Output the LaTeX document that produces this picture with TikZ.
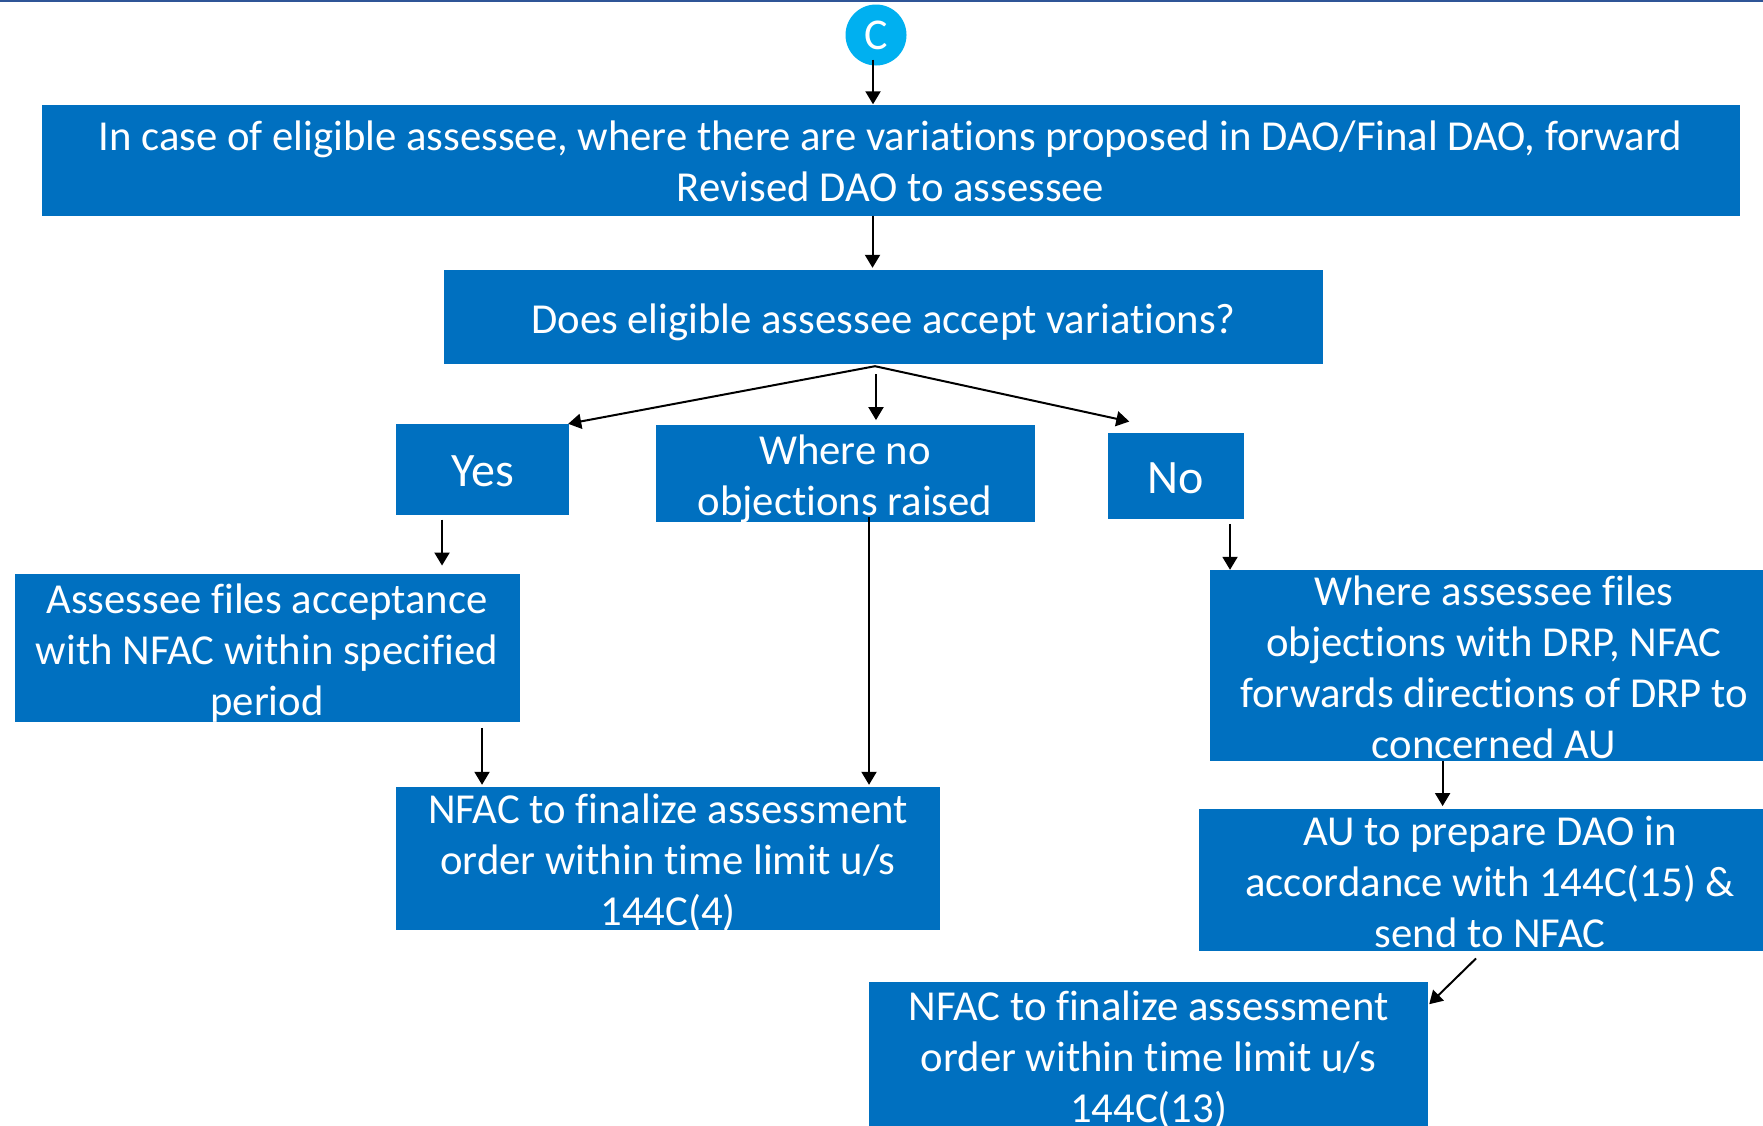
\documentclass[tikz,border=0pt]{standalone}
\usepackage{fontspec}
\setmainfont{Carlito}[Ligatures=NoCommon]
\usetikzlibrary{arrows.meta}
\definecolor{boxblue}{HTML}{0070C0}
\definecolor{dotblue}{HTML}{00B0F0}
\definecolor{rulenavy}{HTML}{2F5597}
% box text: centred lines, set a little below the box's middle; the
% reported height and depth are trimmed so the box keeps its given size
\newcommand{\boxlines}[1]{\raisebox{-6pt}[\dimexpr\height-10pt\relax][\dimexpr\depth-10pt\relax]{\begin{tabular}{@{}c@{}}#1\end{tabular}}}
\tikzset{
  stepbox/.style={rectangle, fill=boxblue, text=white, inner sep=0pt,
    font=\fontsize{42.7}{51}\selectfont},
  bigbox/.style={stepbox, font=\fontsize{48}{56}\selectfont},
  arr/.style={draw=black, line width=2pt,
    -{Triangle[length=13pt,width=15pt]}},
}
\begin{document}
\begin{tikzpicture}[x=1pt,y=-1pt]
\useasboundingbox (0,0) rectangle (1763,1125);
\fill[white] (0,0) rectangle (1763,1125);
\draw[rulenavy, line width=2.5pt] (0,1) -- (1763,1);

% connector marker
\node[circle, fill=dotblue, text=white, minimum size=61pt, inner sep=0pt,
      font=\fontsize{44}{50}\selectfont] (c) at (876,35) {C};

% process boxes
\node[stepbox, minimum width=1698pt, minimum height=111pt] (b1) at (890.5,160)
  {\boxlines{In case of eligible assessee, where there are variations proposed in DAO/Final DAO, forward\\Revised DAO to assessee}};
\node[stepbox, minimum width=879pt, minimum height=94pt] (b2) at (883.5,317)
  {\boxlines{Does eligible assessee accept variations?}};
\node[bigbox, minimum width=173pt, minimum height=91pt] (yes) at (482.5,469.5) {\boxlines{Yes}};
\node[stepbox, minimum width=379pt, minimum height=97pt] (nobj) at (845,473.3)
  {\boxlines{Where no\\objections raised}};
\node[bigbox, minimum width=136pt, minimum height=86.5pt] (no) at (1175.5,476) {\boxlines{No}};
\node[stepbox, minimum width=505pt, minimum height=148.5pt] (accept) at (267,648)
  {\boxlines{Assessee files acceptance\\with NFAC within specified\\period}};
\node[stepbox, minimum width=544pt, minimum height=143pt] (nfacA) at (668,858.5)
  {\boxlines{NFAC to finalize assessment\\order within time limit u/s\\144C(4)}};
\node[stepbox, minimum width=568pt, minimum height=191pt] (drp) at (1494,665.5)
  {\boxlines{Where assessee files\\objections with DRP, NFAC\\forwards directions of DRP to\\concerned AU}};
\node[stepbox, minimum width=583pt, minimum height=142.5pt] (au) at (1490,880)
  {\boxlines{AU to prepare DAO in\\accordance with 144C(15) \&\\send to NFAC}};
\node[stepbox, minimum width=559pt, minimum height=146pt] (nfacB) at (1148.5,1055)
  {\boxlines{NFAC to finalize assessment\\order within time limit u/s\\144C(13)}};

% connectors
\draw[arr] ([xshift=-3pt,yshift=6pt]c.south) -- ([xshift=-17.5pt]b1.north);
\draw[arr] ([xshift=-18pt]b1.south) -- ([xshift=-11pt,yshift=2pt]b2.north);
\draw[arr] ([xshift=-8.5pt,yshift=-2pt]b2.south) -- ([xshift=-1pt]yes.north east);
\draw[arr] ([xshift=-7.5pt,yshift=-10pt]b2.south) -- ([xshift=31pt,yshift=4.5pt]nobj.north);
\draw[arr] ([xshift=-8.5pt,yshift=-2pt]b2.south) -- ([xshift=22pt,yshift=11pt]no.north west);
\draw[arr] ([xshift=-40.5pt,yshift=-4.5pt]yes.south) -- ([xshift=175pt,yshift=8pt]accept.north);
\draw[arr] ([xshift=215pt,yshift=-5.5pt]accept.south) -- ([xshift=-186pt,yshift=2pt]nfacA.north);
\draw[arr] ([xshift=24pt,yshift=4.7pt]nobj.south) -- ([xshift=201pt,yshift=2pt]nfacA.north);
\draw[arr] ([xshift=54.5pt,yshift=-4.5pt]no.south) -- ([xshift=-264pt]drp.north);
\draw[arr] ([xshift=-51.4pt]drp.south) -- ([xshift=-47.4pt,yshift=2.5pt]au.north);
\draw[arr] ([xshift=-14pt,yshift=-7pt]au.south) -- ([xshift=1pt,yshift=-22.4pt]nfacB.north east);
\end{tikzpicture}
\end{document}
